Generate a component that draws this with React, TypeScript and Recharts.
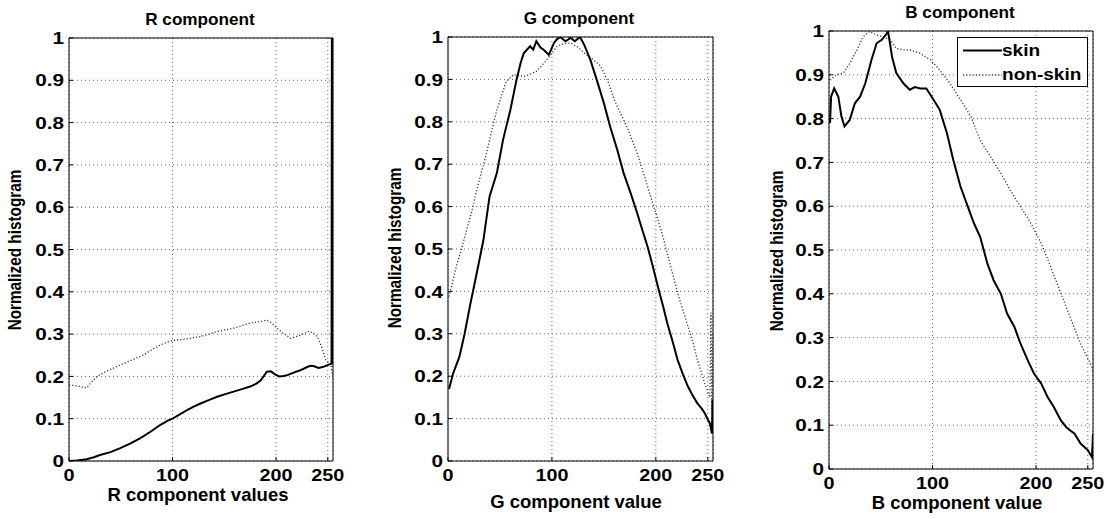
import { LineChart, Line, XAxis, YAxis, CartesianGrid, ReferenceArea } from 'recharts';

const X_TICKS = [0, 100, 200, 250];
const Y_TICKS = [0, 0.1, 0.2, 0.3, 0.4, 0.5, 0.6, 0.7, 0.8, 0.9, 1];

// [component value, normalized histogram]
const R_SKIN: [number, number][] = [
  [0, 0.0], [8, 0.001], [17, 0.004], [24, 0.009], [30, 0.014], [40, 0.021], [49, 0.03], [59, 0.041],
  [69, 0.054], [78, 0.068], [88, 0.085], [95, 0.095], [100, 0.1], [107, 0.11], [114, 0.12], [120, 0.128],
  [127, 0.136], [135, 0.144], [143, 0.152], [151, 0.158], [159, 0.164], [167, 0.17], [175, 0.176],
  [181, 0.183], [185, 0.19], [188, 0.2], [191, 0.211], [195, 0.212], [199, 0.205], [203, 0.2],
  [207, 0.201], [211, 0.203], [217, 0.209], [224, 0.215], [229, 0.221], [233, 0.225], [237, 0.224],
  [241, 0.22], [245, 0.222], [248, 0.225], [251, 0.228], [253, 0.23], [253.6, 0.23], [253.9, 1.0],
  [254.4, 1.0], [254.6, 0.23], [255, 1.0],
];
const R_NONSKIN: [number, number][] = [
  [0, 0.18], [6, 0.178], [11, 0.176], [17, 0.173], [22, 0.187], [27, 0.2], [36, 0.212], [46, 0.223],
  [57, 0.235], [69, 0.247], [78, 0.26], [88, 0.274], [95, 0.281], [101, 0.285], [114, 0.289],
  [127, 0.294], [135, 0.3], [143, 0.306], [151, 0.31], [159, 0.314], [167, 0.32], [175, 0.326],
  [183, 0.329], [191, 0.333], [196, 0.326], [201, 0.314], [207, 0.302], [214, 0.29], [219, 0.294],
  [224, 0.298], [228, 0.302], [232, 0.307], [236, 0.302], [240, 0.294], [244, 0.27], [248, 0.239],
  [251, 0.232], [253, 0.23], [254, 0.21], [255, 0.2],
];

const G_SKIN: [number, number][] = [
  [1, 0.17], [5, 0.207], [11, 0.246], [16, 0.3], [21, 0.364], [27, 0.435], [34, 0.52], [40, 0.624],
  [47, 0.679], [53, 0.758], [60, 0.828], [66, 0.9], [70, 0.94], [73, 0.962], [79, 0.978], [82, 0.97],
  [85, 0.99], [89, 0.975], [92, 0.97], [97, 0.958], [102, 0.986], [105, 0.995], [108, 1.0],
  [113, 0.99], [118, 0.998], [122, 0.99], [127, 1.0], [131, 0.982], [137, 0.946], [143, 0.9],
  [150, 0.844], [156, 0.789], [163, 0.733], [169, 0.679], [176, 0.63], [182, 0.585], [187, 0.545],
  [192, 0.506], [197, 0.46], [202, 0.411], [207, 0.365], [211, 0.325], [216, 0.283], [221, 0.238],
  [226, 0.205], [231, 0.175], [236, 0.152], [240, 0.136], [244, 0.124], [247, 0.113], [250, 0.098],
  [252, 0.089], [254, 0.065], [254.5, 0.145], [255, 0.08],
];
const G_NONSKIN: [number, number][] = [
  [1, 0.388], [8, 0.459], [13, 0.5], [18, 0.545], [23, 0.59], [27, 0.632], [32, 0.68], [37, 0.726],
  [42, 0.778], [47, 0.828], [52, 0.865], [56, 0.895], [63, 0.911], [68, 0.909], [73, 0.907],
  [79, 0.912], [85, 0.919], [90, 0.932], [95, 0.946], [100, 0.962], [105, 0.978], [111, 0.984],
  [118, 0.986], [125, 0.976], [131, 0.962], [139, 0.948], [147, 0.931], [154, 0.895], [160, 0.852],
  [166, 0.82], [172, 0.789], [177, 0.758], [182, 0.726], [187, 0.688], [192, 0.648], [197, 0.608],
  [202, 0.569], [207, 0.528], [211, 0.49], [216, 0.443], [221, 0.396], [226, 0.356], [231, 0.317],
  [236, 0.277], [240, 0.238], [244, 0.208], [247, 0.183], [250, 0.163], [252, 0.15], [253, 0.35],
  [254, 0.12], [255, 0.3],
];

const B_SKIN: [number, number][] = [
  [1, 0.79], [2, 0.85], [5, 0.869], [9, 0.85], [12, 0.805], [15, 0.782], [20, 0.797], [25, 0.835],
  [30, 0.85], [35, 0.88], [41, 0.934], [46, 0.972], [51, 0.98], [56, 0.995], [57, 1.0], [61, 0.94],
  [65, 0.904], [72, 0.88], [78, 0.866], [83, 0.872], [88, 0.869], [94, 0.869], [101, 0.843],
  [107, 0.82], [114, 0.766], [120, 0.706], [127, 0.645], [133, 0.606], [140, 0.561], [146, 0.53],
  [153, 0.469], [159, 0.431], [166, 0.4], [172, 0.355], [179, 0.325], [185, 0.286], [192, 0.248],
  [198, 0.218], [205, 0.195], [211, 0.165], [217, 0.142], [224, 0.111], [229, 0.096], [233, 0.088],
  [237, 0.081], [243, 0.058], [250, 0.043], [254, 0.027], [255, 0.08],
];
const B_NONSKIN: [number, number][] = [
  [1, 0.888], [7, 0.9], [14, 0.904], [20, 0.926], [27, 0.957], [33, 0.987], [39, 0.999], [46, 0.991],
  [52, 0.987], [59, 0.98], [65, 0.96], [72, 0.957], [78, 0.957], [88, 0.949], [98, 0.934],
  [107, 0.911], [117, 0.88], [127, 0.843], [137, 0.805], [146, 0.751], [156, 0.713], [166, 0.675],
  [175, 0.637], [185, 0.599], [195, 0.561], [205, 0.515], [214, 0.462], [224, 0.401], [234, 0.34],
  [243, 0.286], [251, 0.248], [254, 0.233], [255, 0.22],
];

const FONT = "'Liberation Sans', Arial, sans-serif";

const toRows = (pts: [number, number][]) => pts.map(([x, y]) => ({ x, y }));

function YTick(props: any) {
  const { x, y, payload } = props;
  return (
    <g transform={`translate(${x},${y}) scale(1.22,1)`}>
      <text x={0} y={0} dy="0.36em" textAnchor="end" fontSize={17} fontWeight="bold" fill="#000" fontFamily={FONT}>
        {String(payload.value)}
      </text>
    </g>
  );
}

function XTick(props: any) {
  const { x, y, payload } = props;
  return (
    <g transform={`translate(${x},${y}) scale(1.2,1)`}>
      <text x={0} y={0} dy="0.72em" textAnchor="middle" fontSize={16.5} fontWeight="bold" fill="#000" fontFamily={FONT}>
        {String(payload.value)}
      </text>
    </g>
  );
}

interface PanelProps {
  left: number;
  width: number;
  margin: { top: number; right: number; bottom: number; left: number };
  skin: [number, number][];
  nonSkin: [number, number][];
}

function Panel({ left, width, margin, skin, nonSkin }: PanelProps) {
  return (
    <div style={{ position: 'absolute', left, top: 0 }}>
      <LineChart width={width} height={519} margin={margin}>
        <CartesianGrid stroke="#666" strokeDasharray="1 3" />
        <XAxis
          dataKey="x"
          type="number"
          domain={[0, 255]}
          ticks={X_TICKS}
          interval={0}
          allowDataOverflow
          height={30}
          tickSize={-4}
          tickMargin={12}
          tickLine={{ stroke: '#000' }}
          axisLine={false}
          tick={<XTick />}
        />
        <YAxis
          dataKey="y"
          type="number"
          domain={[0, 1]}
          ticks={Y_TICKS}
          interval={0}
          allowDataOverflow
          width={50}
          tickSize={-4}
          tickMargin={9}
          tickLine={{ stroke: '#000' }}
          axisLine={false}
          tick={<YTick />}
        />
        <Line
          data={toRows(nonSkin)}
          dataKey="y"
          type="linear"
          stroke="#333"
          strokeWidth={1.3}
          strokeDasharray="1.2 2"
          dot={false}
          isAnimationActive={false}
        />
        <Line
          data={toRows(skin)}
          dataKey="y"
          type="linear"
          stroke="#000"
          strokeWidth={2}
          dot={false}
          isAnimationActive={false}
        />
        <ReferenceArea x1={0} x2={255} y1={0} y2={1} fill="none" stroke="#000" strokeWidth={1} />
      </LineChart>
    </div>
  );
}

const textBase: React.CSSProperties = {
  position: 'absolute',
  fontFamily: FONT,
  fontWeight: 'bold',
  color: '#000',
  whiteSpace: 'nowrap',
  lineHeight: 1,
};

function Label({ text, cx, cy, size, sx = 1.1, rotate = false }: { text: string; cx: number; cy: number; size: number; sx?: number; rotate?: boolean }) {
  return (
    <div
      style={{
        ...textBase,
        left: cx,
        top: cy,
        fontSize: size,
        transform: rotate
          ? `translate(-50%, -50%) rotate(-90deg) scale(1, ${sx})`
          : `translate(-50%, -50%) scale(${sx}, 1)`,
      }}
    >
      {text}
    </div>
  );
}

export default function App() {
  return (
    <div style={{ position: 'absolute', left: 0, top: 0, width: 1107, height: 519, background: '#fff', overflow: 'hidden' }}>
      <Panel left={0} width={370} margin={{ top: 38, right: 37, bottom: 28, left: 19 }} skin={R_SKIN} nonSkin={R_NONSKIN} />
      <Panel left={370} width={370} margin={{ top: 37, right: 27, bottom: 28, left: 28 }} skin={G_SKIN} nonSkin={G_NONSKIN} />
      <Panel left={740} width={367} margin={{ top: 31, right: 14, bottom: 20, left: 39 }} skin={B_SKIN} nonSkin={B_NONSKIN} />

      <Label text="R component" cx={200} cy={19} size={16.5} sx={1.04} />
      <Label text="G component" cx={579} cy={18} size={16.5} sx={1.04} />
      <Label text="B component" cx={960} cy={12} size={16.5} sx={1.04} />

      <Label text="R component values" cx={198} cy={495} size={18.5} sx={1.0} />
      <Label text="G component value" cx={576} cy={502} size={18.5} sx={1.0} />
      <Label text="B component value" cx={957} cy={503} size={18.5} sx={1.0} />

      <Label text="Normalized histogram" cx={15} cy={250} size={15.3} sx={1.2} rotate />
      <Label text="Normalized histogram" cx={395} cy={248} size={15.3} sx={1.2} rotate />
      <Label text="Normalized histogram" cx={777} cy={251} size={15.3} sx={1.2} rotate />

      <div
        style={{
          position: 'absolute',
          left: 957,
          top: 37,
          width: 131,
          height: 50,
          border: '1px solid #000',
          background: '#fff',
          boxSizing: 'border-box',
        }}
      >
        <svg width={44} height={50} style={{ position: 'absolute', left: 3, top: 0 }}>
          <line x1={2} y1={12.5} x2={41} y2={12.5} stroke="#000" strokeWidth={2} />
          <line x1={2} y1={37} x2={41} y2={37} stroke="#333" strokeWidth={1.3} strokeDasharray="1.2 2" />
        </svg>
        <div style={{ ...textBase, left: 44, top: 4, fontSize: 17, transform: 'scale(1.12,1)', transformOrigin: 'left center' }}>skin</div>
        <div style={{ ...textBase, left: 44, top: 28, fontSize: 17, transform: 'scale(1.12,1)', transformOrigin: 'left center' }}>non-skin</div>
      </div>
    </div>
  );
}
